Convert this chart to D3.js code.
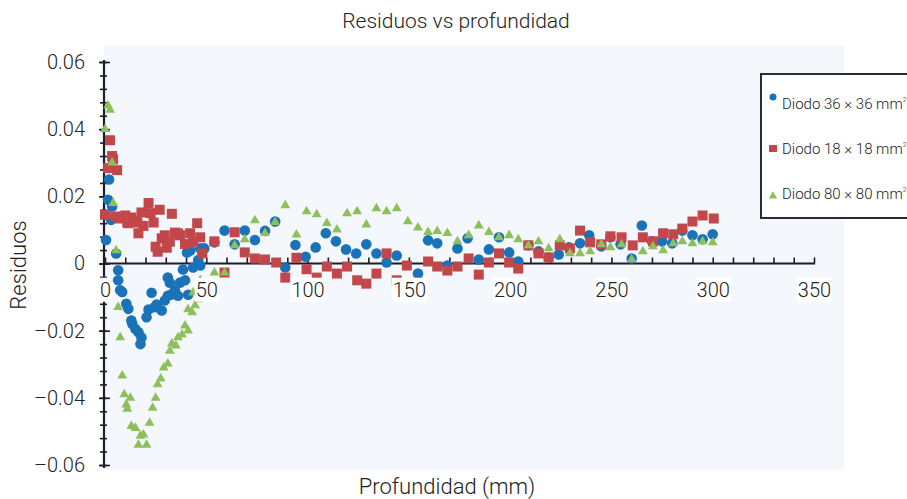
<!DOCTYPE html>
<html><head><meta charset="utf-8">
<script src="https://cdn.jsdelivr.net/npm/d3@7"></script>
<style>
body{margin:0;background:#fff;}
text{font-family:Roboto,"Liberation Sans",Arial,sans-serif;font-weight:300;fill:#222;}
</style></head>
<body><svg id="c" width="907" height="499"></svg>
<script>
const title = "Residuos vs profundidad";
const xLabel = "Profundidad (mm)";
const yLabel = "Residuos";
const seriesNames = ["Diodo 36 × 36 mm", "Diodo 18 × 18 mm", "Diodo 80 × 80 mm"];
const xTickLabels = [0, 50, 100, 150, 200, 250, 300, 350];
const yTickLabels = [0.06, 0.04, 0.02, 0, -0.02, -0.04, -0.06];

const blueDepth = [0.5,1.5,2,3,3.5,5.5,6.5,6.5,7.5,8.5,10.5,11.5,13,13.5,15,16.5,18,17.5,20.5,21.5,23,24.5,25.5,28,29.5,31,32.5,32,31,34.5,36,37,39.5,41,38.5,43.5,47,40.5,42,47,49,46,54,59,64,69,74,79,84,89,94,99,104,109,114,119,124,129,134,139,144,154.5,159.5,164,169,174,179,184.5,189.5,194.5,199.5,204,209,214,219,224,229,234.5,239,245,249.5,254.5,260,265,270,275,280,285,290,295,300];
const blueRes = [0.007,0.019,0.025,0.013,0.017,0.003,-0.002,-0.005,-0.008,-0.0085,-0.012,-0.0135,-0.017,-0.018,-0.0195,-0.0205,-0.022,-0.024,-0.016,-0.0137,-0.0087,-0.013,-0.0122,-0.014,-0.011,-0.0096,-0.0093,-0.0057,-0.0042,-0.008,-0.0096,-0.0057,-0.005,-0.0093,-0.0018,-0.0012,-0.0006,0.0033,0.0039,0.0045,0.0045,0.001,0.0063,0.0098,0.0057,0.0098,0.007,0.0097,0.0125,-0.0012,0.0055,0.002,0.0048,0.009,0.0066,0.0042,0.003,0.0057,0.003,0.0003,0.0024,-0.003,0.0069,0.006,-0.0006,0.0045,0.0075,0.0012,0.0042,0.0078,0.0033,0.0006,0.0054,0.0036,0.0018,0.0027,0.0048,0.006,0.0084,0.0051,0.0078,0.0057,0.0015,0.0113,0.0066,0.0066,0.006,0.0098,0.0084,0.0072,0.0087];

const redDepth = [0,1.5,2.5,3.5,4,5,6,7.5,9,10,11,11.5,13,15,16,16.5,18,19,21.5,22.5,24,25,26,27,28,29.5,30.5,32,33,34.5,36,37,39.5,42,43.5,45.5,47,48,54,59,64,69,74,79,84.5,89,94.5,99.5,104.5,109.5,114.5,119.5,124.5,129,134,139,144,149,154.5,159.5,164,169,174,179.5,184.5,189.5,194.5,199.5,204,209,214,219,224.5,229.5,234.5,239.5,245,249.5,255,260.5,265.5,270.5,275.5,280.5,285,290,295,300.5];
const redRes = [0.0145,0.0284,0.0367,0.032,0.031,0.014,0.0278,0.0134,0.0137,0.0143,0.0122,0.012,0.0137,0.0128,0.0122,0.009,0.0152,0.0112,0.018,0.015,0.0122,0.005,0.0035,0.016,0.0075,0.0084,0.0047,0.0065,0.0148,0.0092,0.009,0.0084,0.0058,0.009,0.0063,0.012,0.0078,0.003,0.0066,-0.0027,0.0093,0.0033,0.0015,0.0012,0.0003,-0.0042,0.0017,-0.0017,-0.0042,-0.0009,-0.003,-0.0009,-0.005,-0.006,-0.003,0.003,-0.005,-0.0006,-0.0057,0.0006,-0.0009,-0.0021,-0.0009,0.0015,-0.0033,0.0003,0.003,0.0003,-0.0015,0.0054,0.003,0.0018,0.0054,0.0045,0.0098,0.0063,0.0057,0.0081,0.0078,0.0054,0.0078,0.0066,0.009,0.0087,0.0104,0.0125,0.0143,0.0134];

const greenDepth = [0,1.5,2.5,3.5,4,5.5,6.5,7.5,8.5,9.5,10.5,11,12.5,13,15,16.5,17.5,19,20.5,22,23.5,25,26,27.5,29,31,32,33,35,36,38,39.5,41,41,43,43.5,44.5,46,47,54,59,64,69,74,79,84,89,94.5,99.5,104.5,109.5,114.5,119.5,124.5,129,134,139,144,149.5,154.5,159.5,164,169,174,179.5,184.5,189.5,194.5,199.5,204,209,214,219,224.5,229.5,234.5,239.5,245,249.5,255,260,265.5,270.5,275.5,280.5,285,290,295,300];
const greenRes = [0.040,0.047,0.0457,0.030,0.018,0.0039,-0.013,-0.022,-0.0334,-0.039,-0.042,-0.0433,-0.040,-0.0484,-0.049,-0.054,-0.0513,-0.051,-0.054,-0.0475,-0.043,-0.040,-0.036,-0.0343,-0.031,-0.0298,-0.026,-0.0239,-0.0245,-0.022,-0.0212,-0.0185,-0.02,-0.0137,-0.0146,-0.0087,-0.0125,-0.0107,-0.005,-0.0027,-0.0027,0.0054,0.0072,0.0128,0.009,0.0123,0.0173,0.0086,0.0155,0.0146,0.012,0.0101,0.0149,0.0155,0.0116,0.0164,0.0155,0.0164,0.0125,0.0107,0.0093,0.0096,0.009,0.0066,0.0084,0.0113,0.0093,0.0078,0.0084,0.0072,0.0054,0.0066,0.0045,0.0072,0.003,0.003,0.0036,0.0057,0.0048,0.0057,0.0012,0.0036,0.0051,0.0039,0.006,0.0066,0.006,0.0066,0.0063];

const colors = ["#1a72b8", "#c2474b", "#8dbf5b"];

const svg = d3.select("#c");
const x = d3.scaleLinear().domain([0, 350]).range([105, 814]);
const y = d3.scaleLinear().domain([-0.06, 0.06]).range([465, 62]);

// plot background
svg.append("rect").attr("x", 104).attr("y", 45).attr("width", 740).attr("height", 425).attr("fill", "#f4f8fc");

// titles
svg.append("text").attr("x", 456).attr("y", 28).attr("text-anchor", "middle").style("font-size", "21px").text(title);
svg.append("text").attr("x", 447).attr("y", 494).attr("text-anchor", "middle").style("font-size", "22px").text(xLabel);
svg.append("text").attr("transform", "translate(26,265) rotate(-90)").attr("text-anchor", "middle").style("font-size", "22px").text(yLabel);

// y axis
const fmtY = d => d === 0 ? "0" : (d < 0 ? "–" : "") + Math.abs(d).toFixed(2);
const yMinor = d3.range(-0.06, 0.0601, 0.004).map(v => +v.toFixed(3));
const yAxisG = svg.append("g").attr("transform", "translate(104,0)")
  .call(d3.axisLeft(y).tickValues(yMinor).tickSize(4).tickFormat(""));
yAxisG.selectAll(".tick line").attr("x1", 3).attr("stroke", "#1d1d2b").attr("stroke-width", 1.6);
const yMajG = svg.append("g").attr("transform", "translate(104,0)")
  .call(d3.axisLeft(y).tickValues(yTickLabels).tickSize(5).tickPadding(14).tickFormat(fmtY));
yMajG.selectAll(".tick line").attr("x1", 6).attr("stroke", "#1d1d2b").attr("stroke-width", 1.6);
yMajG.selectAll(".tick text").style("font-size", "20px").attr("fill", "#222");
yAxisG.select(".domain").remove();
yMajG.select(".domain").attr("stroke", "#1d1d2b").attr("stroke-width", 2.2).attr("d", `M0,${y(0.06)-2}V${y(-0.06)+3}`);

// x axis (at y=0)
const xMinor = d3.range(0, 351, 10);
const xAxisG = svg.append("g").attr("transform", `translate(0,${y(0)})`)
  .call(d3.axisBottom(x).tickValues(xMinor).tickSize(-6).tickFormat(""));
xAxisG.selectAll(".tick line").attr("stroke", "#1d1d2b").attr("stroke-width", 1.6);
xAxisG.select(".domain").attr("stroke", "#1d1d2b").attr("stroke-width", 2.2).attr("d", `M${x(0)},0H${x(350)+1}`);

// points
function drawSeries(depth, res, i) {
  const data = depth.map((d, k) => [d, res[k]]);
  const g = svg.append("g");
  if (i === 0) {
    g.selectAll("circle").data(data).join("circle")
      .attr("cx", d => x(d[0])).attr("cy", d => y(d[1])).attr("r", 5.3).attr("fill", colors[0]);
  } else if (i === 1) {
    g.selectAll("rect").data(data).join("rect")
      .attr("x", d => x(d[0]) - 5).attr("y", d => y(d[1]) - 5).attr("width", 10).attr("height", 10).attr("fill", colors[1]);
  } else {
    const tri = d3.symbol().type(d3.symbolTriangle).size(42);
    g.selectAll("path").data(data).join("path")
      .attr("transform", d => `translate(${x(d[0])},${y(d[1])})`).attr("d", tri).attr("fill", colors[2]);
  }
}
drawSeries(blueDepth, blueRes, 0);
drawSeries(redDepth, redRes, 1);
drawSeries(greenDepth, greenRes, 2);

// x tick labels with white backing
const xLabG = svg.append("g").attr("transform", `translate(0,${y(0)})`)
  .call(d3.axisBottom(x).tickValues(xTickLabels).tickSize(0).tickPadding(19).tickFormat(d3.format("d")));
xLabG.select(".domain").remove();
xLabG.selectAll(".tick text").style("font-size", "20px").attr("fill", "#222");
xLabG.selectAll(".tick").each(function() {
  const t = d3.select(this).select("text");
  const bb = t.node().getBBox();
  d3.select(this).insert("rect", "text").attr("x", bb.x - 1).attr("y", bb.y).attr("width", bb.width + 2).attr("height", bb.height).attr("fill", "#fff");
});

// legend
const lg = svg.append("g");
lg.append("rect").attr("x", 761).attr("y", 74).attr("width", 160).attr("height", 144)
  .attr("fill", "#fff").attr("stroke", "#2a2a36").attr("stroke-width", 2);
const legY = [103, 148, 193];
seriesNames.forEach((name, i) => {
  const cy = legY[i];
  if (i === 0) lg.append("circle").attr("cx", 773).attr("cy", cy - 6).attr("r", 3.5).attr("fill", colors[0]);
  else if (i === 1) lg.append("rect").attr("x", 769).attr("y", cy - 3).attr("width", 8).attr("height", 7).attr("fill", colors[1]);
  else lg.append("path").attr("transform", `translate(773,${cy + 3})`).attr("d", d3.symbol().type(d3.symbolTriangle).size(30)).attr("fill", colors[2]);
  const t = lg.append("text").attr("x", 782).attr("y", cy + 6).style("font-size", "15px").text(name);
  t.append("tspan").attr("dy", -7).style("font-size", "7px").text("2");
});
</script></body></html>
